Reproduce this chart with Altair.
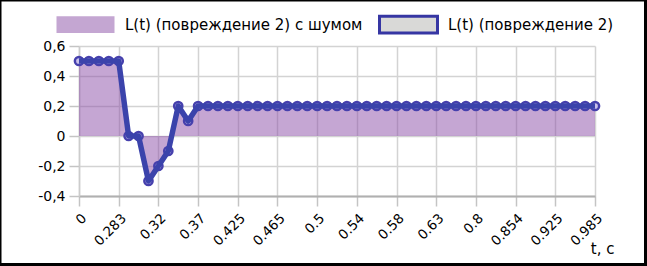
import json
import altair as alt
import pandas as pd

# ---- data ----
tick_labels = ["0", "0.283", "0.32", "0.37", "0.425", "0.465", "0.5",
               "0.54", "0.58", "0.63", "0.8", "0.854", "0.925", "0.985"]
line_values = [0.5, 0.5, 0.5, 0.5, 0.5, 0.0, 0.0, -0.3, -0.2, -0.1, 0.2, 0.1] + [0.2] * 41
noise_values = [0.5, 0.5, 0.5, 0.5, 0.5, 0.0, 0.0, -0.3, -0.2, -0.1, 0.2, 0.1] + [0.2] * 41
series_names = ["L(t) (повреждение 2) с шумом", "L(t) (повреждение 2)"]
y_ticks = [-0.4, -0.2, 0, 0.2, 0.4, 0.6]

n = len(line_values)
df = pd.DataFrame({"i": list(range(n)), "L": line_values, "noise": noise_values})
tick_positions = list(range(0, n, 4))

FONT = "DejaVu Sans"
PURPLE = "#8b4ea7"
PURPLE_SOLID = "#c4a6d2"
BLUE = "#3b43ab"
GRID = "#d3d3d3"

x_axis = alt.Axis(
    values=tick_positions,
    labelExpr=json.dumps(tick_labels) + "[round(datum.value / 4)]",
    title="t, c",
    titleX=535, titleY=57, titleAlign="right", titleBaseline="alphabetic",
    titleFont=FONT, titleFontSize=15, titleFontWeight="normal", titleColor="black",
    grid=True, gridColor=GRID, gridWidth=1.5,
    domainColor="#b0b0b0", domainWidth=2,
    tickColor="#c4c4c4", tickSize=10, tickWidth=1.5,
    labelAngle=-45, labelAlign="right", labelBaseline="top", labelPadding=5,
    labelFont=FONT, labelFontSize=13.5, labelColor="black",
    labelOverlap=False, labelFlush=False, labelBound=False,
)
y_axis = alt.Axis(
    values=y_ticks,
    labelExpr="replace('' + datum.value, '.', ',')",
    title=None,
    grid=True, gridColor=GRID, gridWidth=1.5,
    domainColor="#cccccc", domainWidth=1.5,
    tickColor="#c4c4c4", tickSize=10, tickWidth=1.5,
    labelPadding=4, labelFont=FONT, labelFontSize=14, labelColor="black",
    labelOverlap=False,
)
x_scale = alt.Scale(domain=[0, n - 1], nice=False, zero=False)
y_scale = alt.Scale(domain=[-0.4, 0.6], nice=False, zero=False)

x_enc = alt.X("i:Q", scale=x_scale, axis=x_axis)

base = alt.Chart(df)

area = base.mark_area(color=PURPLE, opacity=0.5).encode(
    x=x_enc,
    y=alt.Y("noise:Q", scale=y_scale, axis=y_axis),
    y2=alt.datum(0),
)

points = base.mark_point(
    shape="circle", filled=True, fill="#c9c0ea", stroke="#4640ad",
    strokeWidth=2.5, size=68, opacity=1,
).encode(x=x_enc, y=alt.Y("L:Q", scale=y_scale, axis=y_axis))

line = base.mark_line(color=BLUE, strokeWidth=5.5, strokeJoin="round").encode(
    x=x_enc, y=alt.Y("L:Q", scale=y_scale, axis=y_axis)
)

sym_path = "M-1,-0.29H1V0.29H-1Z"
legend_df = pd.DataFrame({"series": series_names})
legend_props = dict(
    orient="none", legendX=-24, legendY=-52, direction="horizontal",
    title=None, symbolType=sym_path, symbolSize=58 * 58, symbolStrokeWidth=3,
    labelFont=FONT, labelFontSize=15, labelColor="black", labelLimit=400,
    labelOffset=9, columnPadding=10, padding=0,
)
legend_layer = alt.Chart(legend_df).mark_point(
    shape=sym_path, filled=True, opacity=1
).encode(
    fill=alt.Fill("series:N", scale=alt.Scale(domain=series_names, range=[PURPLE_SOLID, "#d9d9d7"]),
                  legend=alt.Legend(**legend_props)),
    stroke=alt.Stroke("series:N", scale=alt.Scale(domain=series_names, range=["transparent", "#3636a3"]),
                      legend=alt.Legend(**legend_props)),
).transform_filter("false")

border = alt.Chart(pd.DataFrame({"a": [0]})).mark_rect(
    fill="transparent", stroke="black", strokeWidth=3
).encode(
    x=alt.value(-79), x2=alt.value(566.5), y=alt.value(-46), y2=alt.value(218.5)
)

chart = alt.layer(area, points, line, legend_layer, border).properties(
    width=516, height=150,
    padding={"left": 79, "top": 46, "right": 52, "bottom": 70},
    autosize=alt.AutoSizeParams(type="none"),
    background="white",
).configure_view(strokeWidth=0)

chart.save("out.html", embed_options={"renderer": "svg", "actions": False})
